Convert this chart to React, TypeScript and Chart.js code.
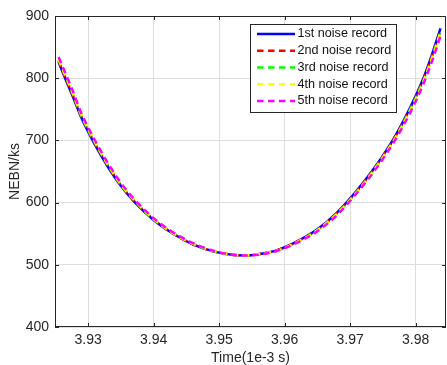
import React, { useEffect, useRef } from 'react';
import { Chart, registerables } from 'chart.js';

Chart.register(...registerables);

// Time axis (1e-3 s)
const timeValues = [
  3.9255, 3.9265, 3.9275, 3.929, 3.931, 3.933, 3.935, 3.937, 3.94, 3.943, 3.946, 3.949, 3.952,
  3.954, 3.956, 3.959, 3.962, 3.965, 3.968, 3.971, 3.974, 3.977, 3.979, 3.981, 3.9825, 3.9838,
];

// NEBN/ks for each noise record
const record1 = [826, 800, 775, 736, 694, 658, 627, 602, 572, 550, 533, 522, 516, 515, 517, 524, 538, 557, 584, 619, 660, 709, 749, 795, 838, 880];
const record2 = [828, 802, 777, 738, 696, 660, 628, 603, 573, 550, 533, 522, 516, 515, 517, 524, 538, 556, 583, 618, 659, 708, 747, 793, 835, 877];
const record3 = [830, 804, 779, 739, 697, 661, 629, 604, 573, 551, 534, 522, 516, 515, 517, 523, 537, 556, 582, 617, 658, 706, 746, 791, 833, 875];
const record4 = [831, 806, 781, 741, 699, 662, 630, 605, 574, 551, 534, 523, 516, 515, 517, 523, 537, 555, 582, 616, 657, 705, 744, 789, 831, 873];
const record5 = [834, 809, 784, 743, 701, 664, 632, 606, 575, 552, 535, 523, 516, 515, 516, 523, 536, 554, 580, 615, 655, 703, 741, 786, 827, 868];

const seriesLabels = ['1st noise record', '2nd noise record', '3rd noise record', '4th noise record', '5th noise record'];
const seriesValues = [record1, record2, record3, record4, record5];
const seriesColors = ['#0000ff', '#ff0000', '#00ff00', '#ffff00', '#ff00ff'];
const seriesDashed = [false, true, true, true, true];

const xTickValues = [3.93, 3.94, 3.95, 3.96, 3.97, 3.98];
const yTickValues = [400, 500, 600, 700, 800, 900];
const xMin = 3.92495;
const xMax = 3.98464;
const yMin = 400;
const yMax = 900;

const FONT = '"Liberation Sans", Arial, Helvetica, sans-serif';
const AXIS_COLOR = '#262626';
const GRID_COLOR = '#dedede';
const DASH = [6.5, 4.5];

const framePlugin = {
  id: 'matlabFrame',
  afterDraw(chart: any) {
    const { ctx, chartArea, scales } = chart;
    const { left, top, right, bottom } = chartArea;
    ctx.save();
    ctx.strokeStyle = AXIS_COLOR;
    ctx.lineWidth = 1;
    ctx.setLineDash([]);
    ctx.strokeRect(left + 0.5, top + 0.5, right - left - 1, bottom - top - 1);
    const tl = 4;
    ctx.beginPath();
    xTickValues.forEach((v) => {
      const px = Math.round(scales.x.getPixelForValue(v)) + 0.5;
      ctx.moveTo(px, bottom);
      ctx.lineTo(px, bottom - tl);
      ctx.moveTo(px, top);
      ctx.lineTo(px, top + tl);
    });
    yTickValues.forEach((v) => {
      const py = Math.round(scales.y.getPixelForValue(v)) + 0.5;
      ctx.moveTo(left, py);
      ctx.lineTo(left + tl, py);
      ctx.moveTo(right, py);
      ctx.lineTo(right - tl, py);
    });
    ctx.stroke();

    // legend box
    const bx = 250.5;
    const by = 24.5;
    const bw = 146;
    const bh = 88;
    ctx.fillStyle = '#ffffff';
    ctx.fillRect(bx, by, bw, bh);
    ctx.strokeStyle = AXIS_COLOR;
    ctx.strokeRect(bx, by, bw, bh);
    ctx.font = `12.6px ${FONT}`;
    ctx.textBaseline = 'middle';
    ctx.textAlign = 'left';
    seriesLabels.forEach((label, i) => {
      const y = 34 + i * 16.75;
      ctx.save();
      ctx.strokeStyle = seriesColors[i];
      ctx.lineWidth = 2.5;
      ctx.setLineDash(seriesDashed[i] ? DASH : []);
      ctx.beginPath();
      ctx.moveTo(257, y);
      ctx.lineTo(295, y);
      ctx.stroke();
      ctx.restore();
      ctx.fillStyle = '#111111';
      ctx.fillText(label, 297.5, y);
    });
    ctx.restore();
  },
};

export default function App() {
  const canvasRef = useRef<HTMLCanvasElement | null>(null);

  useEffect(() => {
    const canvas = canvasRef.current;
    if (!canvas) return;
    const datasets = seriesValues.map((vals, i) => ({
      label: seriesLabels[i],
      data: timeValues.map((t, j) => ({ x: t, y: vals[j] })),
      borderColor: seriesColors[i],
      backgroundColor: seriesColors[i],
      borderWidth: 2.5,
      borderDash: seriesDashed[i] ? DASH : [],
      pointRadius: 0,
      cubicInterpolationMode: 'monotone' as const,
      fill: false,
      order: seriesValues.length - 1 - i,
    }));

    const chart = new Chart(canvas, {
      type: 'line',
      data: { datasets },
      plugins: [framePlugin],
      options: {
        responsive: false,
        animation: false,
        devicePixelRatio: 1,
        layout: { padding: { top: 16, right: 1, left: 0, bottom: 0 } },
        plugins: {
          legend: { display: false },
          tooltip: { enabled: false },
        },
        scales: {
          x: {
            type: 'linear',
            min: xMin,
            max: xMax,
            afterBuildTicks: (scale: any) => {
              scale.ticks = xTickValues.map((v) => ({ value: v }));
            },
            afterFit: (scale: any) => {
              scale.height = 38;
            },
            grid: { color: GRID_COLOR, drawTicks: false, lineWidth: 1 },
            border: { display: false },
            ticks: {
              autoSkip: false,
              maxRotation: 0,
              padding: 5,
              color: AXIS_COLOR,
              font: { family: FONT, size: 14 },
              callback: (v: any) => Number(v).toFixed(2),
            },
            title: {
              display: true,
              text: 'Time(1e-3 s)',
              color: AXIS_COLOR,
              font: { family: FONT, size: 14, lineHeight: 1 },
              padding: { top: 0, bottom: 0 },
            },
          },
          y: {
            type: 'linear',
            min: yMin,
            max: yMax,
            afterBuildTicks: (scale: any) => {
              scale.ticks = yTickValues.map((v) => ({ value: v }));
            },
            afterFit: (scale: any) => {
              scale.width = 55;
            },
            grid: { color: GRID_COLOR, drawTicks: false, lineWidth: 1 },
            border: { display: false },
            ticks: {
              padding: 6,
              color: AXIS_COLOR,
              font: { family: FONT, size: 14 },
              callback: (v: any) => String(v),
            },
            title: {
              display: true,
              text: 'NEBN/ks',
              color: AXIS_COLOR,
              font: { family: FONT, size: 14, lineHeight: 1 },
              padding: { top: 8, bottom: 0 },
            },
          },
        },
      },
    });
    return () => chart.destroy();
  }, []);

  return (
    <div style={{ position: 'absolute', left: 0, top: 0, width: 447, height: 365, background: '#ffffff' }}>
      <canvas ref={canvasRef} width={447} height={365} style={{ display: 'block', width: 447, height: 365 }} />
    </div>
  );
}
